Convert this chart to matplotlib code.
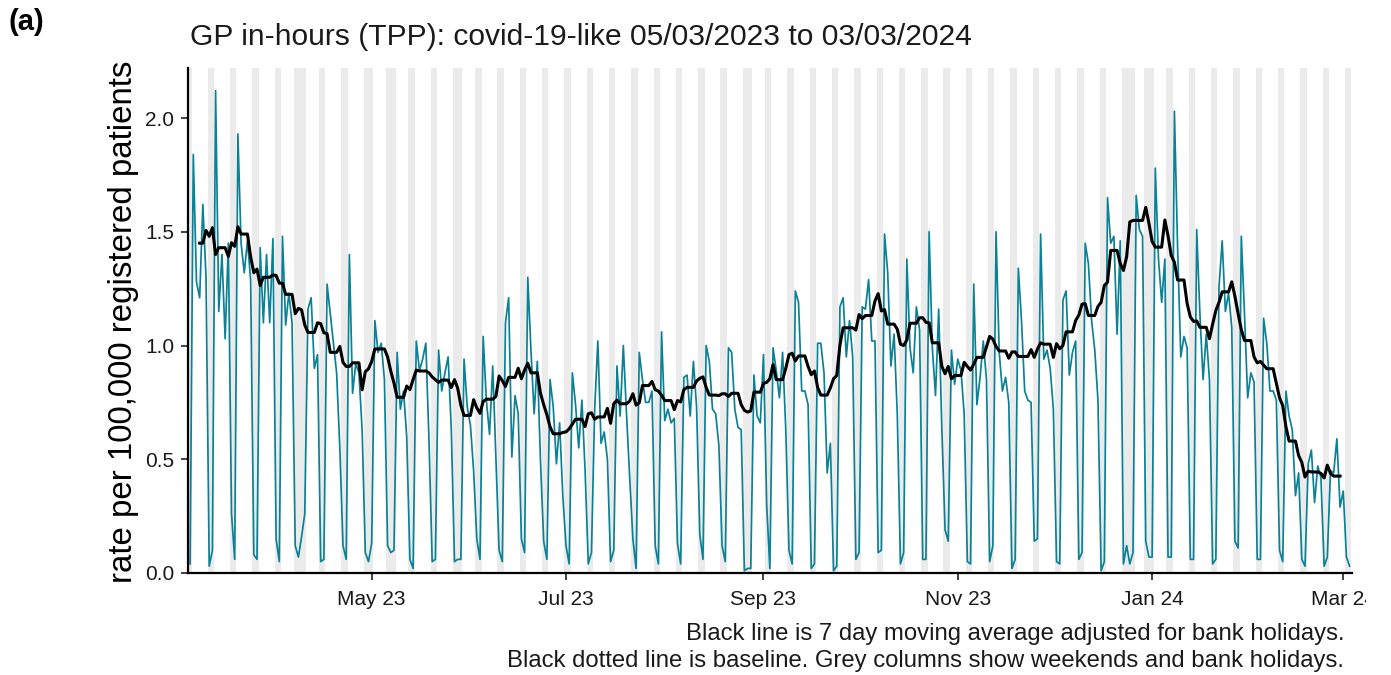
import numpy as np
import pandas as pd
import matplotlib
matplotlib.use("Agg")
import matplotlib.pyplot as plt
import matplotlib.dates as mdates
from matplotlib.transforms import Bbox, TransformedBbox

plt.rcParams['font.family'] = ['Liberation Sans', 'DejaVu Sans']

# ---------------- data ----------------
start_date = "2023-03-05"

# daily rate per 100,000 (Sun 5 Mar 2023, then weeks Mon..Sun)
rate_q1 = [0.04,
    1.84, 1.28, 1.21, 1.62, 1.30, 0.03, 0.10,
    2.12, 1.15, 1.40, 1.03, 1.45, 0.26, 0.06,
    1.93, 1.45, 1.32, 1.46, 1.29, 0.08, 0.06,
    1.43, 1.10, 1.40, 1.10, 1.47, 0.15, 0.05,
    1.48, 1.09, 1.23, 1.10, 0.12, 0.07, 0.16,
    0.26, 1.16, 1.21, 0.90, 0.96, 0.05, 0.06,
    1.27, 1.14, 1.01, 0.88, 0.55, 0.12, 0.06,
    1.40, 0.79, 0.92, 0.88, 0.63, 0.09, 0.05,
    0.13, 1.11, 0.97, 1.01, 0.85, 0.12, 0.09,
    0.10, 0.97, 0.72, 0.80, 0.60, 0.06, 0.02,
    1.02, 0.89, 0.94, 1.01, 0.58, 0.05, 0.06,
    0.98, 0.80, 0.88, 0.95, 0.63, 0.05, 0.06,
    0.06, 0.94, 0.73, 0.65, 0.45, 0.15, 0.06]
rate_q2 = [
    1.04, 0.76, 0.61, 0.91, 0.50, 0.10, 0.05,
    1.10, 1.21, 0.51, 0.78, 0.70, 0.15, 0.09,
    1.30, 0.98, 0.70, 0.93, 0.49, 0.14, 0.06,
    0.85, 0.73, 0.48, 0.66, 0.34, 0.12, 0.04,
    0.88, 0.74, 0.55, 0.76, 0.45, 0.04, 0.09,
    0.72, 1.02, 0.57, 0.62, 0.50, 0.05, 0.10,
    0.91, 0.69, 1.00, 0.70, 0.42, 0.15, 0.02,
    0.97, 0.85, 0.75, 0.75, 0.80, 0.12, 0.04,
    1.06, 0.67, 0.72, 0.66, 0.68, 0.13, 0.04,
    0.86, 0.87, 0.69, 0.93, 0.73, 0.17, 0.06,
    1.00, 0.93, 0.72, 0.70, 0.56, 0.12, 0.05,
    0.99, 0.97, 0.72, 0.64, 0.63, 0.01, 0.02,
    0.02, 0.87, 0.69, 0.66, 0.96, 0.30, 0.02]
rate_q3 = [
    0.99, 0.89, 0.77, 0.97, 0.63, 0.10, 0.04,
    1.24, 1.19, 0.80, 0.80, 0.74, 0.02, 0.04,
    1.01, 1.01, 0.88, 0.44, 0.57, 0.01, 0.03,
    1.17, 1.21, 0.95, 1.11, 0.95, 0.06, 0.09,
    1.17, 1.16, 1.29, 1.02, 1.02, 0.09, 0.10,
    1.49, 1.32, 0.91, 1.05, 0.70, 0.04, 0.09,
    1.38, 0.99, 0.88, 1.17, 1.07, 0.06, 0.06,
    1.50, 0.99, 0.78, 1.16, 0.63, 0.19, 0.14,
    0.98, 0.83, 0.94, 0.89, 0.70, 0.05, 0.04,
    1.27, 0.74, 0.86, 1.02, 0.85, 0.05, 0.12,
    1.50, 0.97, 0.80, 0.86, 0.75, 0.02, 0.06,
    1.34, 1.11, 0.80, 0.76, 0.75, 0.14, 0.15,
    1.49, 0.94, 0.98, 0.90, 0.72, 0.05, 0.04]
rate_q4 = [
    1.20, 1.24, 0.87, 0.97, 1.02, 0.06, 0.09,
    1.45, 1.36, 1.11, 0.98, 0.76, 0.01, 0.05,
    1.65, 1.45, 1.48, 1.05, 1.46, 0.04, 0.12,
    0.04, 0.09, 1.66, 1.51, 1.48, 0.14, 0.07,
    0.07, 1.78, 1.38, 1.19, 1.38, 0.07, 0.07,
    2.03, 1.43, 0.95, 1.04, 0.99, 0.06, 0.06,
    1.51, 1.14, 0.85, 1.05, 0.85, 0.04, 0.06,
    1.26, 1.46, 1.15, 1.23, 1.08, 0.14, 0.11,
    1.48, 1.14, 0.77, 0.88, 0.84, 0.06, 0.06,
    1.12, 1.01, 0.80, 0.80, 0.76, 0.10, 0.05,
    0.80, 0.69, 0.63, 0.34, 0.44, 0.06, 0.03,
    0.48, 0.54, 0.31, 0.47, 0.42, 0.03, 0.07,
    0.45, 0.44, 0.59, 0.29, 0.36, 0.07, 0.03]

bank_holidays = ["2023-04-07", "2023-04-10", "2023-05-01", "2023-05-08",
                 "2023-05-29", "2023-08-28", "2023-12-25", "2023-12-26",
                 "2024-01-01"]
baseline_value = 0.0
tick_dates = ["2023-05-01", "2023-07-01", "2023-09-01", "2023-11-01",
              "2024-01-01", "2024-03-01"]
ytick_values = [0.0, 0.5, 1.0, 1.5, 2.0]

title = "GP in-hours (TPP): covid-19-like 05/03/2023 to 03/03/2024"
ylabel = "rate per 100,000 registered patients"
caption1 = "Black line is 7 day moving average adjusted for bank holidays."
caption2 = "Black dotted line is baseline. Grey columns show weekends and bank holidays."

# ---------------- derived ----------------
rate = np.array(rate_q1 + rate_q2 + rate_q3 + rate_q4)
dates = pd.date_range(start_date, periods=len(rate), freq="D")
bh = pd.to_datetime(bank_holidays)
off = (dates.dayofweek >= 5) | dates.isin(bh)
work = ~np.asarray(off)
x = mdates.date2num(dates)

ma = np.full(len(rate), np.nan)
for i in range(3, len(rate) - 3):
    sl = slice(i - 3, i + 4)
    vals = rate[sl][work[sl]]
    if len(vals):
        ma[i] = vals.mean()

# ---------------- figure ----------------
W, H = 1391, 675
fig = plt.figure(figsize=(W / 100, H / 100), dpi=100)
ax = fig.add_axes([188 / W, 1 - 573 / H, (1352 - 188) / W, (573 - 68) / H])

for xv in x[np.asarray(off)]:
    ax.axvspan(xv - 0.5, xv + 0.5, color="#ebebeb", lw=0, zorder=0)

ax.plot(x, rate, color="#0b8196", lw=1.25, zorder=2)
ax.plot(x, np.full(len(x), baseline_value), color="black", lw=1.0,
        ls=(0, (1, 2)), zorder=3)
ax.plot(x, ma, color="black", lw=2.2, zorder=4)

ax.set_xlim(x[0] - 0.66, x[-1] + 0.75)
ax.set_ylim(0, 2.22)

for s in ["top", "right"]:
    ax.spines[s].set_visible(False)
for s in ["left", "bottom"]:
    ax.spines[s].set_linewidth(1.6)
    ax.spines[s].set_color("black")

tx = mdates.date2num(pd.to_datetime(tick_dates))
ax.set_xticks(tx)
ax.set_xticklabels([d.strftime("%b %y") for d in pd.to_datetime(tick_dates)])
ax.set_yticks(ytick_values)
ax.set_yticklabels([f"{v:.1f}" for v in ytick_values])
ax.tick_params(axis="both", length=5, width=1.3, color="#333333",
               labelsize=15, labelcolor="#1a1a1a", pad=5)
ax.tick_params(axis="x", pad=7)

# clip last x tick label like the reference
clipbox = TransformedBbox(Bbox([[0, 0], [1366 / W, 1]]), fig.transFigure)
for lab in ax.get_xticklabels():
    lab.set_clip_on(True)
    lab.set_clip_box(clipbox)

fig.text(8 / W, 1 - 22 / H, "(a)", fontsize=21, fontweight="bold",
         ha="left", va="center")
fig.text(190 / W, 1 - 37 / H, title, fontsize=21.6, ha="left", va="center",
         color="#1a1a1a")
fig.text(124 / W, 1 - 322 / H, ylabel, fontsize=23.8, rotation=90,
         ha="center", va="center", color="black")
fig.text(1344 / W, 1 - 634 / H, caption1, fontsize=17.2, ha="right",
         va="center", color="#1a1a1a")
fig.text(1344 / W, 1 - 661 / H, caption2, fontsize=17.2, ha="right",
         va="center", color="#1a1a1a")

fig.savefig("out.png", dpi=100)
